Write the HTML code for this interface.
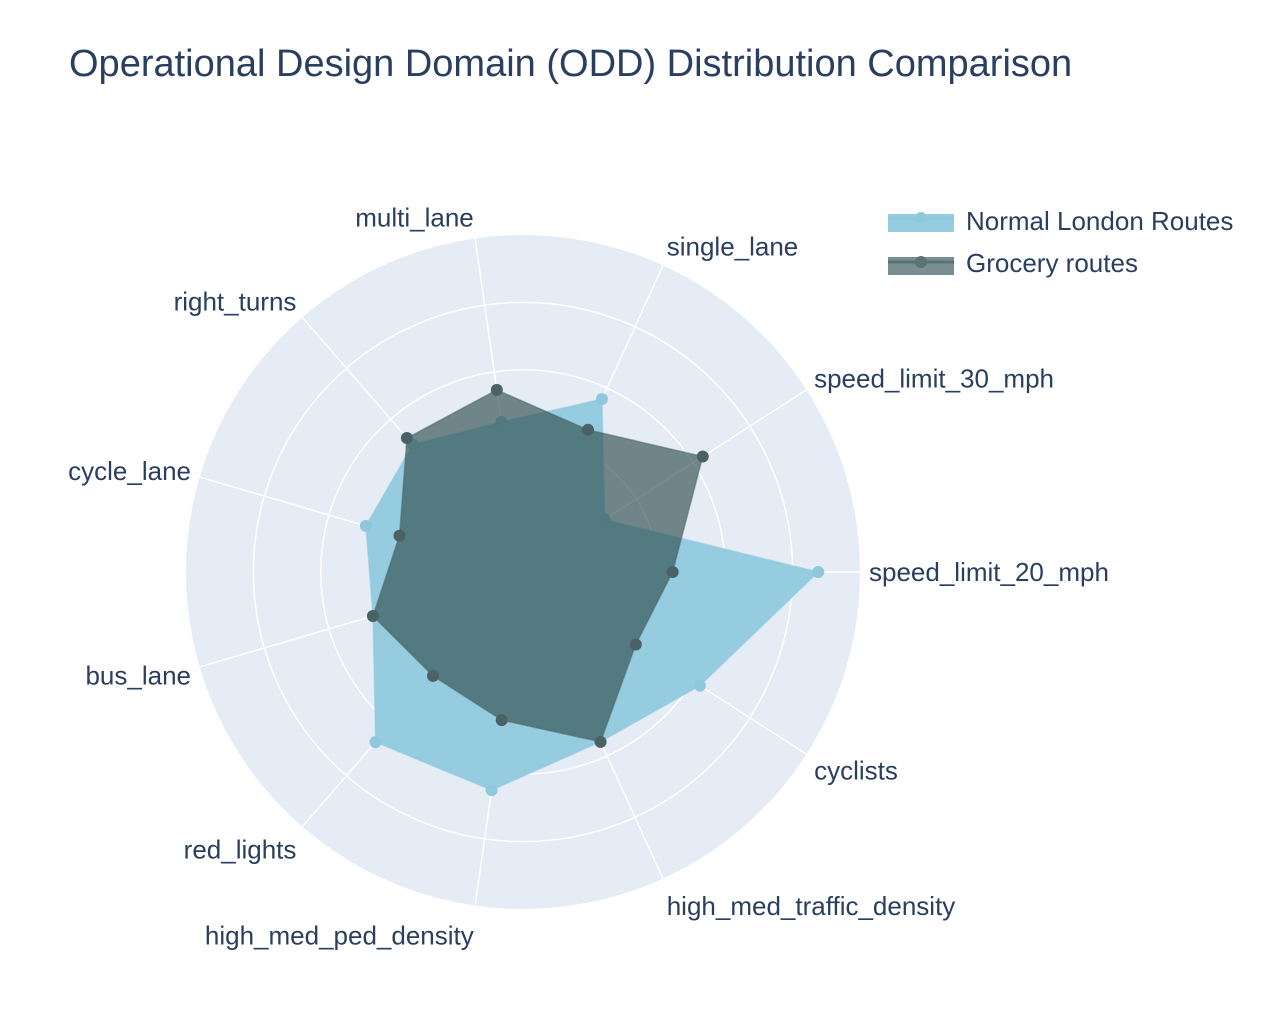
<!DOCTYPE html>
<html><head><meta charset="utf-8">
<style>
html,body{margin:0;padding:0;background:#fff;}
svg{display:block;font-family:"Liberation Sans",Arial,sans-serif;}
</style></head>
<body>
<svg id="chart" width="1280" height="1033" viewBox="0 0 1280 1033">
<text x="69" y="76" font-size="38" fill="#2a3f5f">Operational Design Domain (ODD) Distribution Comparison</text>
<g id="legend">
  <g>
    <rect x="888" y="214" width="66" height="18" fill="rgb(150,204,224)"/>
    <line x1="888" y1="218" x2="954" y2="218" stroke="rgb(143,200,220)" stroke-width="3"/>
    <circle cx="921" cy="218" r="6" fill="rgb(143,200,220)"/>
    <text x="966" y="230" font-size="26" fill="#2a3f5f">Normal London Routes</text>
  </g>
  <g>
    <rect x="888" y="257" width="66" height="18" fill="#788e92"/>
    <line x1="888" y1="262" x2="954" y2="262" stroke="#5a7378" stroke-width="3"/>
    <circle cx="921" cy="262" r="6" fill="#5a7378"/>
    <text x="966" y="272" font-size="26" fill="#2a3f5f">Grocery routes</text>
  </g>
</g>
<g id="polar"></g>
</svg>
<script>
const categories = ["speed_limit_20_mph","speed_limit_30_mph","single_lane","multi_lane","right_turns","cycle_lane","bus_lane","red_lights","high_med_ped_density","high_med_traffic_density","cyclists"];
const normalValues = [4.38,1.44,2.82,2.25,2.5,2.43,2.32,3.34,3.27,2.77,3.12];
const groceryValues = [2.22,3.17,2.32,2.73,2.63,1.91,2.32,2.04,2.22,2.77,1.99];
const ringTicks = [1,2,3,4];
const rMax = 5;

const cx=523, cy=572, R=337;
const NS="http://www.w3.org/2000/svg";
const g=document.getElementById('polar');
function rScale(v){return v/rMax*R;}
function ang(i){return i*2*Math.PI/categories.length;}
function pt(i,v){const a=ang(i),r=rScale(v);return [cx+r*Math.cos(a), cy-r*Math.sin(a)];}
function mk(tag,attrs){const e=document.createElementNS(NS,tag);for(const k in attrs)e.setAttribute(k,attrs[k]);g.appendChild(e);return e;}

const bg=mk('circle',{cx:cx,cy:cy,r:R,fill:'#e5ecf6'});


ringTicks.forEach(t=>{
  const c=mk('circle',{cx:cx,cy:cy,r:rScale(t),fill:'none',stroke:'#fff','stroke-width':1.5});
  
  
});
categories.forEach((c,i)=>{
  const [x,y]=pt(i,rMax);
  const l=mk('line',{x1:cx,y1:cy,x2:x,y2:y,stroke:'#fff','stroke-width':1.5});
  
  
  const a=ang(i),co=Math.cos(a),si=Math.sin(a);
  const lx=cx+(R+9)*co, ly=cy-(R+9)*si;
  const anchor = co>0.05?'start':(co<-0.05?'end':'middle');
  const off = si<0 ? 9 - si*21 : 9 - si*12;
  const t=mk('text',{x:lx,y:ly+off,'font-size':26,fill:'#2a3f5f','text-anchor':anchor});
  t.textContent=c;
  
  
});
function series(vals,fill,fo,stroke,name){
  const pts=vals.map((v,i)=>pt(i,v));
  const p=mk('polygon',{points:pts.map(p=>p.join(',')).join(' '),fill:fill,'fill-opacity':fo,stroke:stroke,'stroke-width':1.5,'stroke-opacity':0.5});
  
  
  pts.forEach(q=>{
    const c=mk('circle',{cx:q[0],cy:q[1],r:6,fill:stroke});
    
    
  });
}
series(normalValues,'rgb(150,204,224)',1,'rgb(143,200,220)','normal-london-routes');
series(groceryValues,'rgb(47,79,79)',0.65,'#4a6266','grocery-routes');
</script>
</body></html>
